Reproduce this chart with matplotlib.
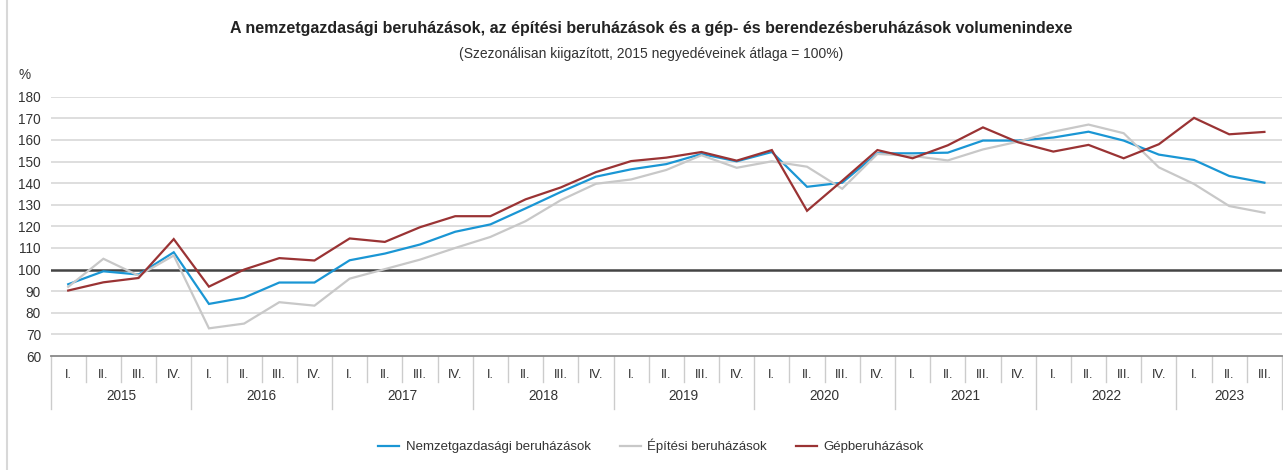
import matplotlib
matplotlib.use('Agg')
import matplotlib.pyplot as plt
import matplotlib.transforms as mtransforms
from matplotlib.lines import Line2D

plt.rcParams['font.family'] = ['Liberation Sans', 'DejaVu Sans']

# Data: quarters 2015 I .. 2023 III
years = ['2015', '2016', '2017', '2018', '2019', '2020', '2021', '2022', '2023']
quarters = ['I.', 'II.', 'III.', 'IV.']
n_quarters = [4, 4, 4, 4, 4, 4, 4, 4, 3]

nemzetgazdasagi = [93.2, 99.2, 97.7, 108.0, 84.1, 87.0, 94.0, 94.0, 104.3, 107.4,
                   111.6, 117.5, 120.9, 128.3, 135.9, 143.0, 146.4, 148.8, 153.5, 150.1,
                   154.4, 138.3, 140.2, 153.8, 153.8, 154.1, 159.7, 159.7, 161.1, 163.8,
                   159.7, 153.2, 150.7, 143.3, 140.2]
epitesi = [92.0, 105.0, 97.2, 106.5, 72.8, 75.0, 84.9, 83.3, 95.8, 100.2,
           104.6, 110.0, 115.1, 122.4, 132.1, 139.7, 141.7, 146.1, 152.9, 147.1,
           150.1, 147.6, 137.4, 153.5, 152.6, 150.5, 155.6, 159.2, 163.8, 167.1,
           163.1, 147.3, 139.6, 129.4, 126.3]
gep = [90.3, 94.1, 96.1, 114.1, 92.1, 100.0, 105.3, 104.2, 114.4, 112.8,
       119.6, 124.7, 124.7, 132.5, 138.0, 145.1, 150.2, 151.8, 154.4, 150.4,
       155.3, 127.2, 141.1, 155.3, 151.5, 157.5, 165.8, 158.9, 154.6, 157.7,
       151.5, 158.0, 170.2, 162.6, 163.7]

series_names = ['Nemzetgazdasági beruházások', 'Építési beruházások', 'Gépberuházások']
colors = ['#1a96d4', '#c8c8c8', '#9a3334']

W, H = 1283, 470
fig = plt.figure(figsize=(W / 100, H / 100), dpi=100)
ax = fig.add_axes([50.6 / W, 1 - 356 / H, (1282 - 50.6) / W, (356 - 96.7) / H])

x = list(range(len(gep)))
ax.set_xlim(-0.5, len(gep) - 0.5)
ax.set_ylim(60, 180)

# gridlines
for v in range(70, 190, 10):
    if v == 100:
        continue
    ax.axhline(v, color='#d4d4d4', lw=1.1, zorder=1)
ax.axhline(100, color='#444444', lw=1.8, zorder=2)

lines = []
for vals, c, name in zip([nemzetgazdasagi, epitesi, gep], colors, series_names):
    ln, = ax.plot(x, vals, color=c, lw=1.6, label=name, zorder=3,
                  solid_joinstyle='miter')
    lines.append(ln)

for s in ['top', 'right', 'left']:
    ax.spines[s].set_visible(False)
ax.spines['bottom'].set_color('#888888')
ax.spines['bottom'].set_linewidth(1.3)

ax.set_yticks(range(60, 190, 10))
ax.tick_params(axis='y', length=0, pad=7, labelsize=9.8, labelcolor='#333333')
ax.set_xticks([])

# category axis: separators and labels
trans = mtransforms.blended_transform_factory(ax.transData, ax.transAxes)
ax_h = 356 - 96.7
q_sep = -26 / ax_h
y_sep = -53 / ax_h
pos = 0
for yr, nq in zip(years, n_quarters):
    ax.add_line(Line2D([pos - 0.5, pos - 0.5], [0, y_sep], transform=trans,
                       color='#cccccc', lw=1, clip_on=False))
    for q in range(nq):
        if q > 0:
            ax.add_line(Line2D([pos + q - 0.5, pos + q - 0.5], [0, q_sep],
                               transform=trans, color='#cccccc', lw=1, clip_on=False))
        ax.text(pos + q, -19 / ax_h, quarters[q], transform=trans, ha='center',
                va='center', fontsize=9.3, color='#333333')
    ax.text(pos + (nq - 1) / 2, -40 / ax_h, yr, transform=trans, ha='center',
            va='center', fontsize=9.8, color='#333333')
    pos += nq
ax.add_line(Line2D([pos - 0.5, pos - 0.5], [0, y_sep], transform=trans,
                   color='#cccccc', lw=1, clip_on=False))

fig.text(651 / W, 1 - 29 / H,
         'A nemzetgazdasági beruházások, az építési beruházások és a gép- és '
         'berendezésberuházások volumenindexe',
         ha='center', va='center', fontsize=11.5, fontweight='bold', color='#222222')
fig.text(651 / W, 1 - 54 / H,
         '(Szezonálisan kiigazított, 2015 negyedéveinek átlaga = 100%)',
         ha='center', va='center', fontsize=10, color='#333333')
fig.text(25 / W, 1 - 75 / H, '%', ha='center', va='center', fontsize=9.8,
         color='#333333')

fig.legend(handles=lines, loc='center', bbox_to_anchor=(651 / W, 1 - 446 / H),
           ncol=3, frameon=False, fontsize=9.5, handlelength=1.6,
           columnspacing=2.2, handletextpad=0.5, labelcolor='#333333')

# left frame line
fig.add_artist(Line2D([7 / W, 7 / W], [0, 1], transform=fig.transFigure,
                      color='#d8d8d8', lw=1.5))

fig.savefig('out.png', dpi=100)
